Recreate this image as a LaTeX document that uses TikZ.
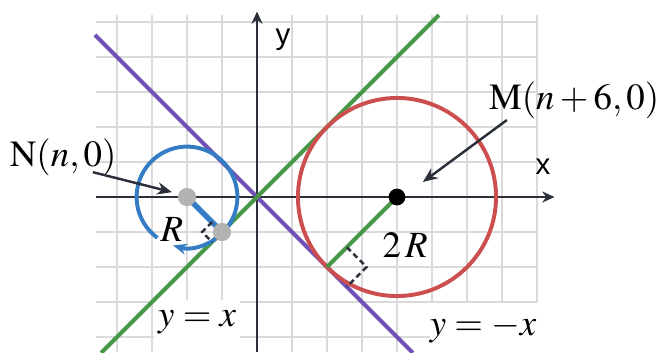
\documentclass[tikz,border=0pt]{standalone}
\usepackage{mathptmx}
\usepackage{fontspec}
\setmainfont{Liberation Serif}
\newfontfamily\axisfont{Liberation Sans}
\usepackage{tikz}
\usetikzlibrary{arrows.meta,calc}

\definecolor{gridgray}{RGB}{218,218,218}
\definecolor{axisdark}{RGB}{42,47,58}
\definecolor{lgreen}{RGB}{72,150,72}
\definecolor{lpurple}{RGB}{112,82,182}
\definecolor{cred}{RGB}{204,78,78}
\definecolor{cblue}{RGB}{52,124,196}
\definecolor{dotgray}{RGB}{178,178,178}

\begin{document}
\begin{tikzpicture}

    \tikzstyle{every node}=[font=\fontsize{30}{34}\selectfont]
    \tikzstyle{gridline}=[gridgray,line width=1.4pt]
    \tikzstyle{axis}=[axisdark,line width=2.1pt,-{Stealth[length=10pt,width=9pt]}]
    \tikzstyle{lblarrow}=[axisdark,line width=2pt,-{Stealth[length=12pt,width=10pt]}]
    \tikzstyle{rightmark}=[axisdark,line width=2pt,dash pattern=on 4.5pt off 3pt]
    \tikzstyle{dot}=[circle,inner sep=0pt,minimum size=0.52cm,fill=dotgray]

    \useasboundingbox (-7.343,-4.429) rectangle (11.514,5.629);

    % grid
    \foreach \i in {-4,...,8} \draw[gridline] (\i,-4.43) -- (\i,5.2);
    \foreach \j in {-4,...,5} \draw[gridline] (-4.6,\j) -- (8.0,\j);
    \fill[white] (-2.95,-2.95) rectangle (-0.49,-4.5);
    \fill[white] (4.94,-3.03) rectangle (8.3,-4.5);

    % axes
    \draw[axis] (-4.6,0) -- (8.5,0);
    \draw[axis] (0,-4.43) -- (0,5.3);
    \node[font=\axisfont\fontsize{24}{28}\selectfont](xlbl) at (8.17,0.86){x};
    \node[font=\axisfont\fontsize{24}{28}\selectfont](ylbl) at (0.74,4.49){y};

    \coordinate (O) at (0,0);
    \coordinate (P) at (-1,-1);
    \coordinate (Q) at (2,-2);
    \coordinate (g1) at (-4.45,-4.45);
    \coordinate (g2) at (5.2,5.2);
    \coordinate (p1) at (-4.63,4.63);
    \coordinate (p2) at (4.45,-4.45);

    \draw[lpurple,line width=3.2pt](p1)--(p2);
    \draw[lgreen,line width=3.2pt](g1)--(g2);

    % circles
    \draw[cred,line width=3.2pt] (4,0) circle[radius=2.83];
    \draw[cblue,line width=3.2pt,-{Stealth[length=11pt,width=9pt]}] (-2,0) ++(234:1.44) arc[start angle=234,end angle=-106,radius=1.44];

    % radii
    \draw[lgreen,line width=3.2pt](4,0)--(Q);
    \draw[cblue,line width=4.4pt](-2,0)--(P);
    \draw[rightmark] ($(P)+(135:0.4)$) -- ($(P)+(135:0.4)+(225:0.4)$) -- ($(P)+(225:0.4)$);
    \draw[rightmark] ($(Q)+(45:0.8)$) -- ($(Q)+(45:0.8)+(-45:0.8)$) -- ($(Q)+(-45:0.8)$);

    \node[dot](N) at (-2,0){};
    \node[dot](T) at (P){};
    \node[circle,inner sep=0pt,minimum size=0.48cm,fill=black](M) at (4,0){};

    % labels
    \node(Rlbl) at (-2.43,-0.94){$R$};
    \node(Rtwo) at (4.23,-1.37){$2\,R$};
    \node(eqa) at (-1.71,-3.57){$y=x$};
    \node(eqb) at (6.46,-3.75){$y=-x$};
    \node(nlbl) at (-5.54,1.14){$\mathrm{N}(n,0)$};
    \node(mlbl) at (9.06,2.77){$\mathrm{M}(n+6,0)$};

    \coordinate (nTail) at (-4.69,0.71);
    \coordinate (nTip) at (-2.43,0.14);
    \coordinate (mTail) at (7.14,2.2);
    \coordinate (mTip) at (4.74,0.43);
    \draw[lblarrow](nTail)--(nTip);
    \draw[lblarrow](mTail)--(mTip);

\end{tikzpicture}
\end{document}
